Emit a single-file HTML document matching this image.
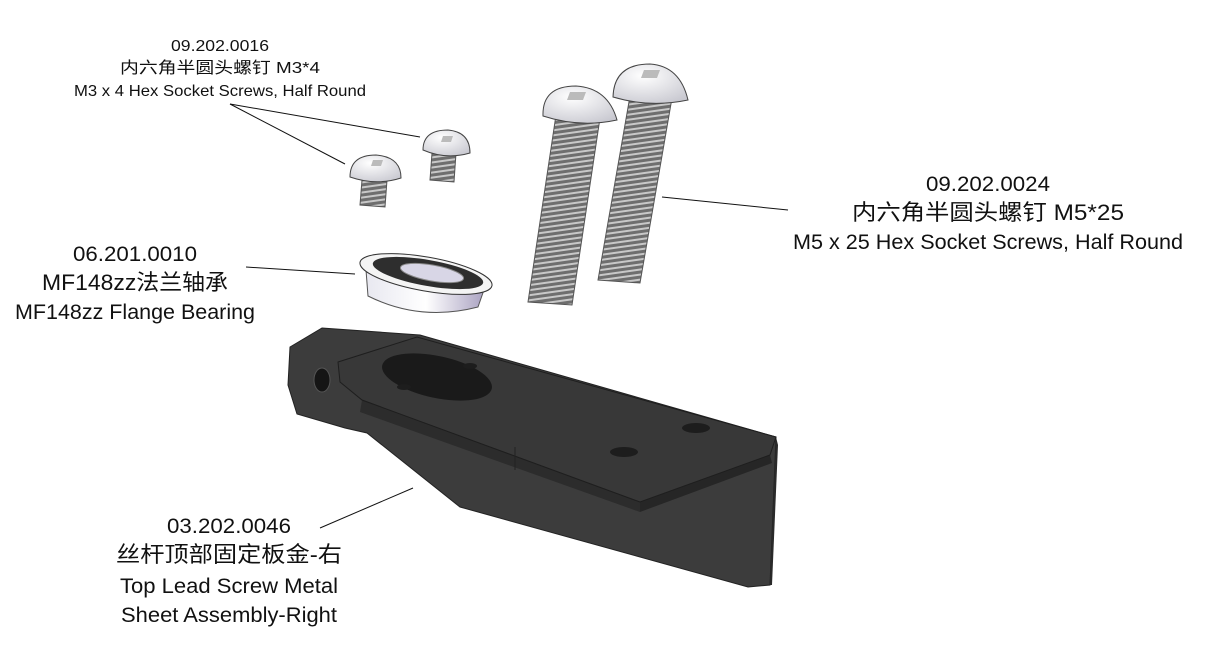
<!DOCTYPE html>
<html><head><meta charset="utf-8"><style>
html,body{margin:0;padding:0;background:#fff;width:1212px;height:651px;overflow:hidden}
svg text{font-family:"Liberation Sans","Noto Sans CJK SC",sans-serif;fill:#111}
</style></head><body>
<svg width="1212" height="651" viewBox="0 0 1212 651" xmlns="http://www.w3.org/2000/svg">
<defs>
<pattern id="thr" width="8" height="5" patternUnits="userSpaceOnUse" patternTransform="rotate(-8)">
<rect width="8" height="5" fill="#6e6e6e"/><rect width="8" height="2" fill="#c8c8c8"/>
</pattern>
<linearGradient id="brg" x1="0" x2="1"><stop offset="0" stop-color="#e8e8f0"/><stop offset=".5" stop-color="#ffffff"/><stop offset="1" stop-color="#a8a0c0"/></linearGradient>
<radialGradient id="head" cx=".4" cy=".3" r=".8"><stop offset="0" stop-color="#fff"/><stop offset="1" stop-color="#c8c8d0"/></radialGradient>
</defs>

<!-- bracket -->
<polygon points="290,347 322,328 420,335 776,437 770,585 748,587 460,507 367,433 345,428 297,414 288,385" fill="#3c3c3c" stroke="#222" stroke-width="1"/>
<polygon points="776,437 778,445 772,585 770,585" fill="#2a2a2a"/>
<polygon points="362,400 640,502 640,512 360,412" fill="#2c2c2c"/>
<polygon points="640,502 770,455 772,463 640,512" fill="#262626"/>
<polygon points="338,362 417,337 776,437 770,455 640,502 362,400 340,382" fill="#383838" stroke="#1e1e1e" stroke-width="1"/>
<line x1="515" y1="447" x2="515" y2="470" stroke="#222"/>
<ellipse cx="322" cy="380" rx="8" ry="12" fill="#151515" stroke="#555"/>
<ellipse cx="437" cy="377" rx="56" ry="21" fill="#1a1a1a" transform="rotate(12 437 377)"/>
<ellipse cx="470" cy="366" rx="7" ry="3" fill="#1d1d1d"/>
<ellipse cx="404" cy="387" rx="7" ry="3" fill="#1d1d1d"/>
<ellipse cx="696" cy="428" rx="14" ry="5" fill="#1d1d1d"/>
<ellipse cx="624" cy="452" rx="14" ry="5" fill="#1d1d1d"/>

<!-- bearing -->
<path d="M366,270 L368,296 Q420,322 478,307 L486,284 Z" fill="url(#brg)" stroke="#555" stroke-width="1"/>
<ellipse cx="426" cy="274" rx="67" ry="17" fill="#f4f4f4" stroke="#333" transform="rotate(10 426 274)"/>
<ellipse cx="428" cy="273" rx="56" ry="13" fill="#2e2e2e" transform="rotate(10 428 273)"/>
<ellipse cx="432" cy="273" rx="32" ry="8" fill="#d8d6e6" stroke="#888" transform="rotate(10 432 273)"/>

<!-- small screws -->
<polygon points="362,180 387,180 385,207 360,205" fill="url(#thr)" stroke="#555"/>
<path d="M350,177 Q350,155 376,155 Q401,157 401,178 Q376,186 350,177Z" fill="url(#head)" stroke="#444"/>
<polygon points="373,160 383,160 381,166 371,166" fill="#bbb"/>
<polygon points="432,153 456,153 454,182 430,180" fill="url(#thr)" stroke="#555"/>
<path d="M423,150 Q423,130 448,130 Q470,132 470,153 Q446,160 423,150Z" fill="url(#head)" stroke="#444"/>
<polygon points="443,136 453,136 451,142 441,142" fill="#bbb"/>

<!-- long screws -->
<polygon points="556,115 600,118 572,305 528,302" fill="url(#thr)" stroke="#555"/>
<path d="M543,116 Q542,86 576,86 Q608,88 617,120 Q580,128 543,116Z" fill="url(#head)" stroke="#444"/>
<polygon points="570,92 586,92 583,100 567,100" fill="#bbb"/>
<polygon points="630,96 672,98 640,283 598,280" fill="url(#thr)" stroke="#555"/>
<path d="M613,97 Q614,64 650,64 Q680,66 688,100 Q650,108 613,97Z" fill="url(#head)" stroke="#444"/>
<polygon points="644,70 660,70 657,78 641,78" fill="#bbb"/>

<!-- leaders -->
<g stroke="#111" stroke-width="1">
<line x1="230" y1="104" x2="345" y2="164"/>
<line x1="230" y1="104" x2="420" y2="137"/>
<line x1="662" y1="197" x2="788" y2="210"/>
<line x1="246" y1="267" x2="355" y2="274"/>
<line x1="320" y1="528" x2="413" y2="488"/>
</g>

<!-- labels -->
<g text-anchor="middle">
<text x="220" y="51" font-size="16" textLength="98" lengthAdjust="spacingAndGlyphs">09.202.0016</text>
<text x="220" y="73" font-size="16" textLength="200" lengthAdjust="spacingAndGlyphs">内六角半圆头螺钉 M3*4</text>
<text x="220" y="96" font-size="16" textLength="292" lengthAdjust="spacingAndGlyphs">M3 x 4 Hex Socket Screws, Half Round</text>
<text x="988" y="191" font-size="21" textLength="124" lengthAdjust="spacingAndGlyphs">09.202.0024</text>
<text x="988" y="220" font-size="22" textLength="272" lengthAdjust="spacingAndGlyphs">内六角半圆头螺钉 M5*25</text>
<text x="988" y="249" font-size="21" textLength="390" lengthAdjust="spacingAndGlyphs">M5 x 25 Hex Socket Screws, Half Round</text>
<text x="135" y="261" font-size="21" textLength="124" lengthAdjust="spacingAndGlyphs">06.201.0010</text>
<text x="135" y="290" font-size="22" textLength="186" lengthAdjust="spacingAndGlyphs">MF148zz法兰轴承</text>
<text x="135" y="319" font-size="21" textLength="240" lengthAdjust="spacingAndGlyphs">MF148zz Flange Bearing</text>
<text x="229" y="533" font-size="21" textLength="124" lengthAdjust="spacingAndGlyphs">03.202.0046</text>
<text x="229" y="562" font-size="22" textLength="226" lengthAdjust="spacingAndGlyphs">丝杆顶部固定板金-右</text>
<text x="229" y="593" font-size="21" textLength="218" lengthAdjust="spacingAndGlyphs">Top Lead Screw Metal</text>
<text x="229" y="622" font-size="21" textLength="216" lengthAdjust="spacingAndGlyphs">Sheet Assembly-Right</text>
</g>
</svg>
</body></html>
